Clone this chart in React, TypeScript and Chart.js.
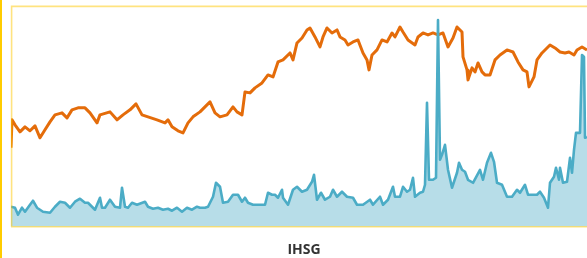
import React, { useEffect, useRef } from "react";
import { Chart, registerables } from "chart.js";

Chart.register(...registerables);

const TITLE = "IHSG";

// trading-session index and index level
const priceDays = [0, 1, 4, 9, 14, 19, 24, 29, 34, 39, 44, 51, 56, 61, 67, 74, 79, 86, 89, 99, 106, 112, 119, 125, 131, 137, 146, 154, 157, 161, 167, 172, 177, 182, 189, 194, 199, 204, 209, 216, 222, 226, 231, 234, 239, 244, 251, 257, 262, 267, 272, 279, 282, 286, 291, 296, 299, 304, 309, 312, 316, 321, 326, 329, 334, 337, 342, 347, 352, 356, 358, 361, 366, 371, 376, 381, 384, 389, 392, 397, 404, 407, 412, 417, 422, 427, 432, 437, 442, 446, 451, 452, 456, 457, 461, 464, 467, 471, 474, 479, 484, 489, 496, 502, 507, 512, 516, 518, 523, 526, 531, 539, 544, 549, 554, 558, 563, 566, 571, 576];
const priceValues = [4430, 4937, 4846, 4719, 4810, 4738, 4828, 4611, 4756, 4900, 5027, 5063, 4973, 5118, 5154, 5154, 5063, 4882, 5027, 5081, 4937, 5027, 5118, 5226, 5027, 4991, 4937, 4882, 4937, 4810, 4738, 4701, 4882, 4991, 5081, 5172, 5262, 5063, 4991, 5027, 5172, 5081, 5027, 5443, 5425, 5516, 5606, 5751, 5715, 5986, 6023, 6149, 6023, 6330, 6421, 6566, 6602, 6439, 6258, 6439, 6602, 6511, 6566, 6439, 6385, 6294, 6348, 6385, 6149, 6023, 5842, 6113, 6204, 6385, 6348, 6511, 6439, 6620, 6529, 6385, 6294, 6439, 6511, 6475, 6511, 6475, 6511, 6258, 6421, 6620, 6529, 6077, 5842, 5661, 5878, 5805, 5968, 5805, 5751, 5751, 6023, 6113, 6204, 6167, 5986, 5842, 5805, 5534, 5715, 6023, 6149, 6294, 6240, 6167, 6149, 6167, 6113, 6204, 6258, 6204];

// trading-session index and volume (billion shares)
const volumeDays = [0, 4, 7, 11, 14, 19, 22, 26, 29, 32, 39, 44, 49, 54, 59, 64, 69, 74, 77, 84, 89, 91, 94, 99, 104, 109, 111, 114, 117, 121, 126, 134, 137, 142, 147, 152, 157, 161, 166, 171, 176, 181, 186, 189, 194, 197, 202, 205, 209, 212, 217, 222, 227, 231, 234, 237, 242, 254, 257, 261, 264, 267, 271, 272, 277, 282, 286, 291, 296, 301, 303, 306, 310, 314, 319, 322, 326, 331, 336, 342, 346, 352, 359, 362, 369, 372, 377, 382, 384, 389, 392, 396, 399, 402, 404, 409, 412, 414, 416, 418, 422, 425, 427, 429, 431, 434, 437, 441, 446, 448, 451, 454, 457, 462, 469, 472, 476, 480, 483, 486, 491, 496, 501, 506, 509, 514, 517, 522, 526, 529, 533, 537, 539, 543, 545, 548, 549, 552, 556, 559, 561, 563, 565, 569, 571, 573, 574, 576];
const volumeValues = [2.0, 1.9, 1.2, 1.9, 1.5, 2.2, 2.6, 1.9, 1.7, 1.5, 1.4, 2.0, 2.5, 2.4, 1.9, 2.5, 2.8, 2.4, 2.4, 1.7, 2.9, 1.9, 1.9, 2.7, 2.0, 1.9, 3.9, 2.0, 1.9, 2.4, 2.2, 2.5, 2.0, 1.8, 1.9, 1.7, 1.8, 1.6, 1.9, 1.5, 1.9, 1.7, 2.0, 1.9, 1.9, 2.0, 3.0, 4.4, 4.0, 2.4, 2.5, 3.2, 3.2, 2.5, 2.9, 2.4, 2.2, 2.2, 3.4, 3.2, 3.2, 2.9, 3.7, 2.9, 2.2, 3.7, 4.0, 3.5, 3.7, 4.5, 5.2, 2.7, 3.4, 2.7, 3.0, 3.7, 3.0, 3.5, 3.0, 2.9, 2.2, 2.2, 2.7, 2.2, 3.0, 2.2, 2.7, 4.0, 3.0, 3.0, 4.0, 3.5, 3.7, 4.9, 3.0, 3.4, 3.5, 4.2, 12.4, 4.7, 4.7, 4.9, 20.7, 6.7, 7.2, 8.2, 5.7, 3.9, 5.4, 6.4, 5.7, 5.5, 4.7, 4.4, 5.7, 4.7, 6.4, 7.4, 6.5, 4.4, 4.2, 3.0, 3.0, 3.7, 3.4, 4.2, 3.2, 3.2, 3.2, 3.5, 2.9, 1.9, 4.4, 5.0, 5.9, 4.7, 5.9, 4.4, 4.5, 6.9, 5.4, 7.7, 9.4, 9.4, 17.2, 17.0, 8.9, 9.0];

const framePlugin = {
  id: "frame",
  afterDatasetsDraw(chart: any) {
    const { ctx, chartArea } = chart;
    const { left, top, right, bottom } = chartArea;
    ctx.save();
    ctx.strokeStyle = "rgba(255, 200, 0, 0.5)";
    ctx.lineWidth = 1.6;
    ctx.beginPath();
    ctx.moveTo(left + 0.6, bottom);
    ctx.lineTo(left + 0.6, top + 0.4);
    ctx.lineTo(right, top + 0.4);
    ctx.moveTo(left, bottom);
    ctx.lineTo(right, bottom);
    ctx.stroke();
    ctx.restore();
  },
};

export default function App() {
  const ref = useRef<HTMLCanvasElement | null>(null);

  useEffect(() => {
    if (!ref.current) return;
    const chart = new Chart(ref.current, {
      type: "line",
      data: {
        datasets: [
          {
            label: "Volume",
            data: volumeDays.map((d, i) => ({ x: d, y: volumeValues[i] })),
            yAxisID: "yV",
            borderColor: "#4BACC6",
            backgroundColor: "#B7DDE8",
            borderWidth: 2.6,
            fill: "origin",
            pointRadius: 0,
            tension: 0,
            borderJoinStyle: "round",
          },
          {
            label: "IHSG",
            data: priceDays.map((d, i) => ({ x: d, y: priceValues[i] })),
            yAxisID: "yP",
            borderColor: "#E46C0A",
            borderWidth: 3,
            fill: false,
            pointRadius: 0,
            tension: 0,
            borderJoinStyle: "round",
          },
        ],
      },
      options: {
        animation: false,
        responsive: false,
        devicePixelRatio: 1,
        layout: { padding: { left: 11, top: 6, right: 0, bottom: 0 } },
        scales: {
          x: { type: "linear", min: 0, max: 586, display: false },
          yP: { type: "linear", min: 3000, max: 7000, display: false },
          yV: { type: "linear", min: 0, max: 22.1, display: false },
        },
        plugins: {
          legend: { display: false },
          tooltip: { enabled: false },
          title: {
            display: true,
            text: TITLE,
            position: "bottom",
            color: "#333333",
            font: { family: "'Open Sans', sans-serif", size: 14, weight: "bold", lineHeight: 1.2 },
            padding: { top: 14.5, bottom: 0 },
          },
        },
      },
      plugins: [framePlugin],
    } as any);
    return () => chart.destroy();
  }, []);

  return (
    <div
      style={{
        position: "fixed",
        left: 0,
        top: 0,
        width: 587,
        height: 258,
        overflow: "hidden",
        background: "#ffffff",
      }}
    >
      <canvas
        ref={ref}
        width={597}
        height={258}
        style={{ position: "absolute", left: 0, top: 0, width: 597, height: 258 }}
      />
      <div
        style={{
          position: "absolute",
          left: 0,
          top: 0,
          width: 2,
          height: 258,
          background: "#FFCC00",
        }}
      />
    </div>
  );
}
